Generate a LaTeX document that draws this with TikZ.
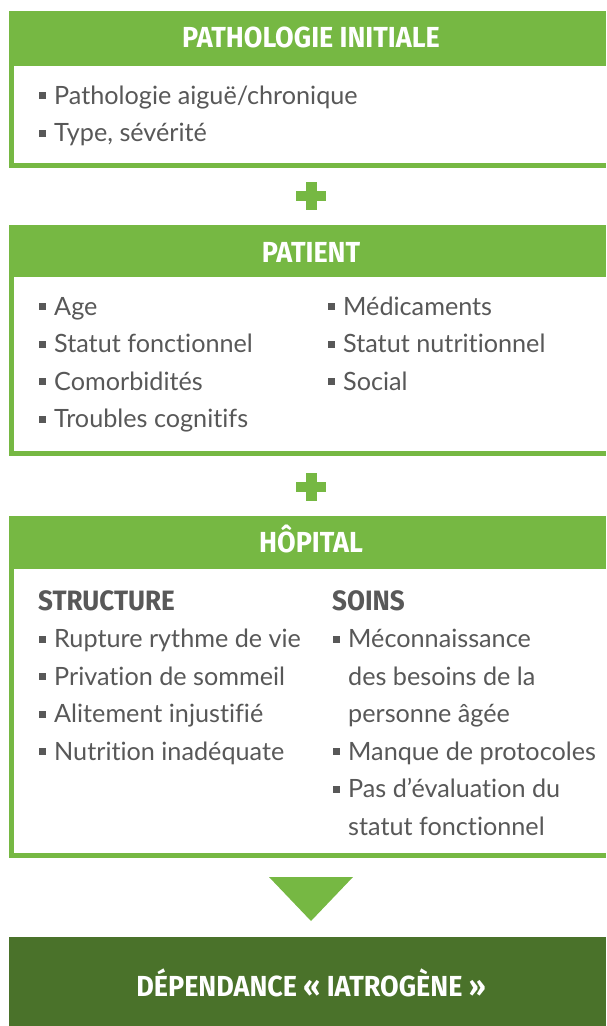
\documentclass[tikz,border=0pt]{standalone}
\usepackage{fontspec}
\setmainfont{Lato}[Ligatures={NoCommon}]
\newfontfamily\headfont{Fira Sans}[FakeStretch=0.93]
\definecolor{leaf}{HTML}{76B843}
\definecolor{forest}{HTML}{4A722A}
\definecolor{ink}{HTML}{585858}
% small square bullet followed by a gap
\newcommand{\sqbullet}{{\color{ink}\rule[5pt]{7pt}{7pt}}\hspace{8pt}}

\begin{document}
\begin{tikzpicture}[x=1pt,y=-1pt,
  itemtext/.style={anchor=base west, inner sep=0pt, text=ink,
    font=\fontsize{25.2}{30}\selectfont},
  headtext/.style={anchor=base, inner sep=0pt, text=white,
    font=\headfont\bfseries\fontsize{29}{32}\selectfont},
  subtext/.style={anchor=base west, inner sep=0pt, text=ink,
    font=\headfont\bfseries\fontsize{28}{32}\selectfont}]
\useasboundingbox (0,0) rectangle (606,1026);

% ---- panel frames: green header + green left/bottom rim around white body
\fill[leaf] (9,11) rectangle (606,168);
\fill[white] (14,66) rectangle (606,163);
\fill[leaf] (9,225) rectangle (606,456);
\fill[white] (14,277) rectangle (606,451);
\fill[leaf] (9,516) rectangle (606,858);
\fill[white] (14,569) rectangle (606,853);
\fill[forest] (9,937) rectangle (606,1026);

% ---- plus signs between panels
\foreach \cy in {196,487}{
  \fill[leaf] (305.5,\cy-14) rectangle (316.5,\cy+14);
  \fill[leaf] (296,\cy-5) rectangle (326,\cy+5);
}
% ---- downward triangle
\fill[leaf] (269,877) -- (353,877) -- (311,921) -- cycle;

% ---- panel 1
\node[headtext] (h1) at (311,47) {PATHOLOGIE INITIALE};
\node[itemtext] (p1) at (39,104) {\sqbullet Pathologie aiguë/chronique};
\node[itemtext] (p2) at (39,141.5) {\sqbullet Type, sévérité};

% ---- panel 2
\node[headtext] (h2) at (311,262) {PATIENT};
\node[itemtext] (q1) at (39,315) {\sqbullet Age};
\node[itemtext] (q2) at (39,352.5) {\sqbullet Statut fonctionnel};
\node[itemtext] (q3) at (39,390) {\sqbullet Comorbidités};
\node[itemtext] (q4) at (39,427.5) {\sqbullet Troubles cognitifs};
\node[itemtext] (r1) at (328,315) {\sqbullet Médicaments};
\node[itemtext] (r2) at (328,352.5) {\sqbullet Statut nutritionnel};
\node[itemtext] (r3) at (328,390) {\sqbullet Social};

% ---- panel 3
\node[headtext] (h3) at (311,552) {HÔPITAL};
\node[subtext] (s0) at (38,610) {STRUCTURE};
\node[itemtext] (s1) at (39,647.5) {\sqbullet Rupture rythme de vie};
\node[itemtext] (s2) at (39,685) {\sqbullet Privation de sommeil};
\node[itemtext] (s3) at (39,722.5) {\sqbullet Alitement injustifié};
\node[itemtext] (s4) at (39,760) {\sqbullet Nutrition inadéquate};
\node[subtext] (t0) at (332,610) {SOINS};
\node[itemtext] (t1) at (333,647.5) {\sqbullet Méconnaissance};
\node[itemtext] (t1b) at (348,685) {des besoins de la};
\node[itemtext] (t1c) at (348,722.5) {personne âgée};
\node[itemtext] (t2) at (333,760) {\sqbullet Manque de protocoles};
\node[itemtext] (t3) at (333,797.5) {\sqbullet Pas d’évaluation du};
\node[itemtext] (t3b) at (348,835) {statut fonctionnel};

% ---- outcome bar
\node[headtext] (out) at (311,996) {DÉPENDANCE « IATROGÈNE »};
\end{tikzpicture}
\end{document}
